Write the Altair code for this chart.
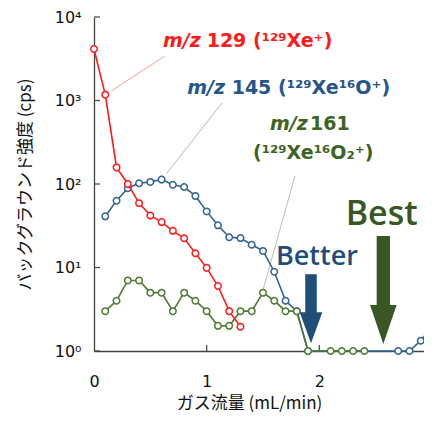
import altair as alt
import pandas as pd

# ---- data ----
red_x = [0.0, 0.1, 0.2, 0.3, 0.4, 0.5, 0.6, 0.7, 0.8, 0.9, 1.0, 1.1, 1.2, 1.3]
red_y = [4140, 1175, 158, 100, 59, 42, 35, 27.5, 22.4, 14.8, 9.9, 6.0, 3.0, 1.95]

blue_x = [0.1, 0.2, 0.3, 0.4, 0.5, 0.6, 0.7, 0.8, 0.9, 1.0, 1.1, 1.2, 1.3, 1.4, 1.5,
          1.6, 1.7, 1.8, 1.9, 2.7, 2.8, 2.9, 3.0]
blue_y = [41, 63, 89, 102, 106, 113, 98, 92, 72, 47, 32, 23, 22.5, 18.7, 15.8,
          8.9, 4.0, 3.0, 1, 1, 1, 1.33, 1.95]

green_x = [0.1, 0.2, 0.3, 0.4, 0.5, 0.6, 0.7, 0.8, 0.9, 1.0, 1.1, 1.2, 1.3, 1.4, 1.5,
           1.6, 1.7, 1.8, 1.9, 2.1, 2.2, 2.3, 2.4]
green_y = [3, 4, 7, 7, 5, 5, 3, 5, 4, 3, 2, 2, 3, 3, 5,
           4, 3, 3, 1, 1, 1, 1, 1]

x_ticks = [0, 1, 2, 3]
y_ticks = [1, 10, 100, 1000, 10000]

RED, BLUE, GREEN = "#FF1A1A", "#2F6496", "#4E7A32"
BLUE_T, GREEN_T = "#25558A", "#3E6425"
BLUE_A, GREEN_A = "#1F4E79", "#385723"

W, H = 338, 334

xs = alt.Scale(domain=[0, 3], nice=False, zero=False)
ys = alt.Scale(type="log", domain=[1, 10000], nice=False)

LAB_FONT = "DejaVu Sans"
xaxis = alt.Axis(values=x_ticks, format="d", ticks=False, grid=False,
                 domainColor="#444", domainWidth=1.3,
                 labelFont=LAB_FONT, labelFontSize=16, labelColor="#111",
                 labelPadding=30, labelBaseline="middle", labelFlush=False,
                 title="ガス流量 (mL/min)", titleFont="Noto Sans CJK JP",
                 titleFontSize=17, titleFontWeight="normal", titleColor="#111",
                 titleX=155, titleY=52, titleBaseline="middle", titleAlign="center")
yaxis = alt.Axis(values=y_ticks, ticks=False, grid=False,
                 domainColor="#444", domainWidth=1.3,
                 labelFont=LAB_FONT, labelFontSize=16, labelColor="#111",
                 labelPadding=13, labelBaseline="middle",
                 labelExpr="datum.value == 1 ? '10⁰' : datum.value == 10 ? '10¹' : "
                           "datum.value == 100 ? '10²' : datum.value == 1000 ? '10³' : '10⁴'",
                 title="バックグラウンド強度 (cps)", titleFont="Noto Sans CJK JP",
                 titleFontSize=17, titleFontWeight="normal", titleColor="#111",
                 titleX=-69, titleY=167, titleAngle=270,
                 titleBaseline="middle", titleAlign="center")


def X(f="x"):
    return alt.X(f + ":Q", scale=xs, axis=xaxis)


def Y(f="y"):
    return alt.Y(f + ":Q", scale=ys, axis=yaxis)


def series(xv, yv, color):
    df = pd.DataFrame({"x": xv, "y": yv})
    base = alt.Chart(df).encode(x=X(), y=Y())
    line = base.mark_line(color=color, strokeWidth=1.6)
    pts = base.mark_point(shape="circle", size=42, fill="white", filled=True,
                          stroke=color, strokeWidth=1.5, opacity=1)
    return line + pts


# inner ticks
ytick_layer = alt.Chart(pd.DataFrame({"y": y_ticks})).mark_rule(
    color="#444", strokeWidth=1.2).encode(y=Y(), x=alt.value(0), x2=alt.value(6))
xtick_layer = alt.Chart(pd.DataFrame({"x": x_ticks[1:]})).mark_rule(
    color="#444", strokeWidth=1.2).encode(x=X(), y=alt.value(H), y2=alt.value(H - 6))

# leader lines
lead = pd.DataFrame({
    "x": [0.157, 0.645, 1.784], "y": [1310, 134, 125],
    "x2": [0.630, 1.136, 1.50], "y2": [3410, 933, 5.38],
    "c": ["r", "b", "g"],
})
lead_layer = alt.Chart(lead).mark_rule(strokeWidth=1).encode(
    x=X(), y=Y(), x2="x2:Q", y2="y2:Q",
    color=alt.Color("c:N", scale=alt.Scale(domain=["r", "b", "g"],
                                           range=["#FF9C9C", "#A9BCD0", "#B8C2B0"]),
                    legend=None))


def label(x, y, text, color, size=19, style="normal", weight="bold",
          font="DejaVu Sans", align="left"):
    df = pd.DataFrame({"x": [x], "y": [y], "t": [text]})
    return alt.Chart(df).mark_text(align=align, baseline="alphabetic", font=font,
                                   fontSize=size, fontWeight=weight, fontStyle=style,
                                   color=color).encode(x=X(), y=Y(), text="t:N")


labels = [
    label(0.612, 4410, "m/z", RED, style="italic"),
    label(1.000, 4410, "129 (¹²⁹Xe⁺)", RED),
    label(0.828, 1196, "m/z", BLUE_T, style="italic"),
    label(1.222, 1196, "145 (¹²⁹Xe¹⁶O⁺)", BLUE_T),
    label(1.562, 443, "m/z", GREEN_T, style="italic"),
    label(1.917, 443, "161", GREEN_T),
    label(1.411, 199, "(¹²⁹Xe¹⁶O₂⁺)", GREEN_T),
    label(1.979, 10.7, "Better", BLUE_A, size=27, weight=600, font="Open Sans",
          align="center"),
    label(2.553, 32.3, "Best", GREEN_A, size=34, weight=600, font="Open Sans",
          align="center"),
]

# arrows (tip at the anchor point)
arrow_blue = "M-0.51,-6.1L0.51,-6.1L0.51,-2.74L1,-2.74L0,0L-1,-2.74L-0.51,-2.74Z"
arrow_green = "M-0.5,-8.12L0.5,-8.12L0.5,-2.93L1,-2.93L0,0L-1,-2.93L-0.5,-2.93Z"
arrows = [
    alt.Chart(pd.DataFrame({"x": [1.926], "y": [1.236]})).mark_point(
        shape=arrow_blue, size=511, filled=True, fill=BLUE_A, strokeWidth=0,
        opacity=1).encode(x=X(), y=Y()),
    alt.Chart(pd.DataFrame({"x": [2.568], "y": [1.21]})).mark_point(
        shape=arrow_green, size=708, filled=True, fill=GREEN_A, strokeWidth=0,
        opacity=1).encode(x=X(), y=Y()),
]

chart = alt.layer(
    ytick_layer, xtick_layer, lead_layer,
    series(blue_x, blue_y, BLUE),
    series(green_x, green_y, GREEN),
    series(red_x, red_y, RED),
    *labels, *arrows,
).properties(
    width=W, height=H,
    autosize=alt.AutoSizeParams(type="none"),
    padding={"left": 86, "top": 9, "right": -8, "bottom": 62},
).configure_view(stroke=None)

chart.save("out.html", embed_options={"renderer": "svg", "actions": False})
